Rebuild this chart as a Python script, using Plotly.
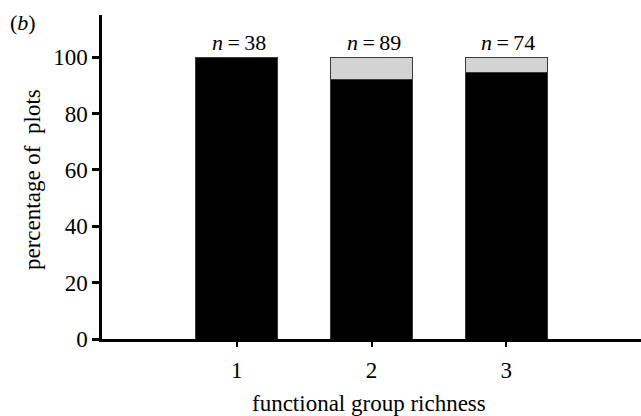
import plotly.graph_objects as go

# functional group richness classes and plot counts
richness = [1, 2, 3]
n_plots = [38, 89, 74]
# percentage of plots in each class (black part and grey remainder)
black_pct = [100.0, 92.1, 94.6]
grey_pct = [0.0, 7.9, 5.4]
y_ticks = [0, 20, 40, 60, 80, 100]

FONT = "Liberation Serif, Times New Roman, serif"

fig = go.Figure()
fig.add_trace(go.Bar(
    x=richness, y=black_pct, width=0.61,
    marker=dict(color="black", line=dict(color="#3a3a3a", width=1)),
    hoverinfo="skip",
))
fig.add_trace(go.Bar(
    x=richness, y=grey_pct, width=0.61,
    marker=dict(color="#d3d3d3", line=dict(color="#3a3a3a", width=1.2)),
    hoverinfo="skip",
))

totals = [b + g for b, g in zip(black_pct, grey_pct)]
for x, n, t in zip(richness, n_plots, totals):
    fig.add_annotation(
        x=x, y=t, xref="x", yref="y", yanchor="bottom", yshift=0, xshift=2,
        text=f"<i>n</i>\u2009=\u2009{n}", showarrow=False,
        font=dict(family=FONT, size=22, color="black"),
    )

fig.add_annotation(
    x=0, y=0.5, xref="paper", yref="paper", xshift=-70, yshift=-3,
    text="percentage of  plots", textangle=-90, showarrow=False,
    xanchor="center", yanchor="middle",
    font=dict(family=FONT, size=23, color="black"),
)
fig.add_annotation(
    x=0.5, y=0, xref="paper", yref="paper", yshift=-64, xshift=-3,
    text="functional group richness", showarrow=False,
    xanchor="center", yanchor="middle",
    font=dict(family=FONT, size=23, color="black"),
)
fig.add_annotation(
    x=0, y=1, xref="paper", yref="paper", xshift=-79, yshift=-7,
    text="(<i>b</i>)", showarrow=False,
    xanchor="center", yanchor="middle",
    font=dict(family=FONT, size=22, color="black"),
)

fig.update_layout(
    width=641, height=416,
    margin=dict(l=102, r=0, t=15, b=77),
    barmode="stack",
    showlegend=False,
    plot_bgcolor="white", paper_bgcolor="white",
    font=dict(family=FONT, size=23, color="black"),
)
fig.update_xaxes(
    range=[0, 4], tickvals=richness, ticktext=[str(r) for r in richness],
    showline=True, linecolor="black", linewidth=2.5,
    ticks="outside", ticklen=5, tickwidth=2, tickcolor="black",
    showgrid=False, zeroline=False, ticklabelstandoff=4,
    tickfont=dict(family=FONT, size=23),
)
fig.update_yaxes(
    range=[0, 115], tickvals=y_ticks,
    showline=True, linecolor="black", linewidth=2.5,
    ticks="outside", ticklen=7, tickwidth=2.5, tickcolor="black",
    showgrid=False, zeroline=False,
    tickfont=dict(family=FONT, size=23),
)

fig.write_html("out.html")
